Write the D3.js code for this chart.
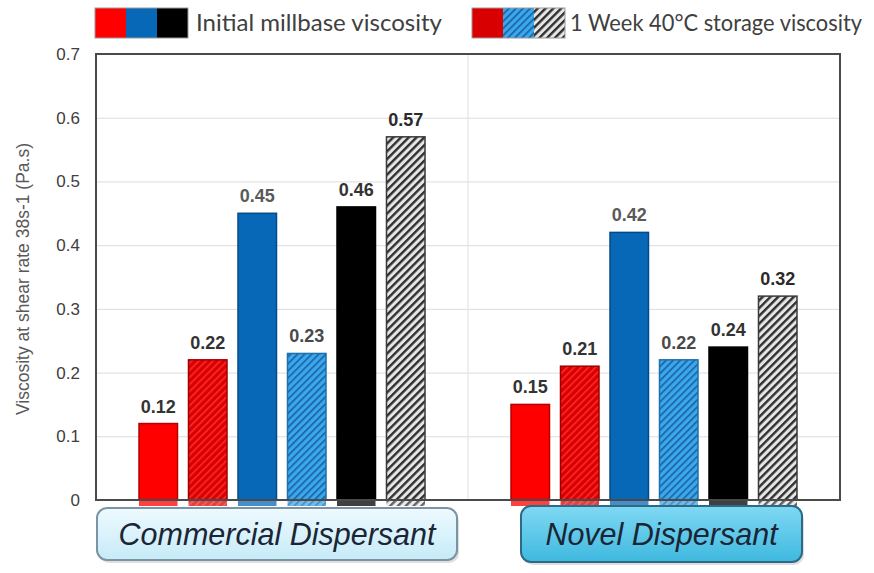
<!DOCTYPE html>
<html>
<head>
<meta charset="utf-8">
<script src="https://cdn.jsdelivr.net/npm/d3@7"></script>
<style>
  html, body { margin: 0; padding: 0; background: #fff; }
  svg { display: block; }
</style>
</head>
<body>
<svg id="chart" width="874" height="573"></svg>
<script>
// Dispersant groups and the six bars drawn in each group
const groups = ["Commercial Dispersant", "Novel Dispersant"];
const series = ["redInitial", "redStored", "blueInitial", "blueStored", "blackInitial", "blackStored"];
const commercialValues = [0.12, 0.22, 0.45, 0.23, 0.46, 0.57];
const novelValues = [0.15, 0.21, 0.42, 0.22, 0.24, 0.32];
const yTicks = [0, 0.1, 0.2, 0.3, 0.4, 0.5, 0.6, 0.7];
const legendLabels = ["Initial millbase viscosity", "1 Week 40°C storage viscosity"];
const yTitle = "Viscosity at shear rate 38s-1 (Pa.s)";

const data = [];
groups.forEach((g, gi) => {
  const vals = gi === 0 ? commercialValues : novelValues;
  series.forEach((s, si) => data.push({ group: g, series: s, value: vals[si] }));
});

// Fill / edge styling per series
const styles = {
  redInitial:   { fill: "#ff0000", edge: "#b80000", label: "#333333" },
  redStored:    { fill: "url(#hatchRed)", edge: "#a00000", label: "#333333" },
  blueInitial:  { fill: "#0868b8", edge: "#064a85", label: "#5a5a5a" },
  blueStored:   { fill: "url(#hatchBlue)", edge: "#1f6fa8", label: "#4a4a4a" },
  blackInitial: { fill: "#000000", edge: "#000000", label: "#333333" },
  blackStored:  { fill: "url(#hatchGray)", edge: "#3a3a3a", label: "#2a2a2a" }
};

const svg = d3.select("#chart");
const plot = { left: 96, top: 54, right: 840, bottom: 500 };

const defs = svg.append("defs");
function hatch(id, bg, line, width, size) {
  const p = defs.append("pattern")
    .attr("id", id).attr("patternUnits", "userSpaceOnUse")
    .attr("width", size).attr("height", size)
    .attr("patternTransform", "rotate(45)");
  p.append("rect").attr("width", size).attr("height", size).attr("fill", bg);
  p.append("rect").attr("x", 0).attr("y", 0).attr("width", width).attr("height", size).attr("fill", line);
}
hatch("hatchRed", "#d80000", "#ff2a2a", 1.6, 5);
hatch("hatchBlue", "#3aa8ee", "#1b5f9c", 1.6, 5);
hatch("hatchGray", "#e6e6e6", "#2e2e2e", 2.4, 5.5);

const gradC = defs.append("linearGradient").attr("id", "boxC").attr("x1", 0).attr("y1", 0).attr("x2", 0).attr("y2", 1);
gradC.append("stop").attr("offset", "0%").attr("stop-color", "#eefaff");
gradC.append("stop").attr("offset", "100%").attr("stop-color", "#c6ebf8");
const gradN = defs.append("linearGradient").attr("id", "boxN").attr("x1", 0).attr("y1", 0).attr("x2", 0).attr("y2", 1);
gradN.append("stop").attr("offset", "0%").attr("stop-color", "#7fd8f3");
gradN.append("stop").attr("offset", "100%").attr("stop-color", "#3fb9df");

// Scales
const x0 = d3.scaleBand().domain(groups).range([plot.left, plot.right]).padding(0);
const x1 = d3.scaleBand().domain(series).range([43, 329]).paddingInner(0.222).paddingOuter(0);
const y = d3.scaleLinear().domain([0, 0.7]).range([plot.bottom, plot.top]);

// Gridlines
svg.append("g")
  .attr("transform", `translate(${plot.left},0)`)
  .call(d3.axisLeft(y).tickValues(yTicks).tickSize(-(plot.right - plot.left)).tickFormat(""))
  .call(g => g.select(".domain").remove())
  .call(g => g.selectAll("line").attr("stroke", "#dcdcdc").attr("stroke-width", 1));

// Group separator
svg.append("line")
  .attr("x1", x0(groups[1])).attr("x2", x0(groups[1]))
  .attr("y1", plot.top).attr("y2", plot.bottom)
  .attr("stroke", "#e4e4e4").attr("stroke-width", 1.2);

// Y tick labels
svg.append("g")
  .attr("transform", `translate(${plot.left},0)`)
  .call(d3.axisLeft(y).tickValues(yTicks).tickSize(0).tickPadding(16).tickFormat(d => d === 0 ? "0" : d3.format(".1f")(d)))
  .call(g => g.select(".domain").remove())
  .call(g => g.selectAll("text")
    .attr("font-family", "'Liberation Sans', Arial, sans-serif")
    .attr("font-size", 17).attr("fill", "#404040"));

// Y axis title
svg.append("text")
  .attr("transform", `translate(29,${(plot.top + plot.bottom) / 2 + 2}) rotate(-90)`)
  .attr("text-anchor", "middle")
  .attr("font-family", "'Liberation Sans', Arial, sans-serif")
  .attr("font-size", 17.5).attr("fill", "#595959")
  .text(yTitle);

// Faint reflection of each bar just below the baseline
svg.append("g").selectAll("rect").data(data).join("rect")
  .attr("x", d => x0(d.group) + x1(d.series))
  .attr("y", plot.bottom)
  .attr("width", x1.bandwidth())
  .attr("height", 6)
  .attr("fill", d => styles[d.series].fill)
  .attr("opacity", 0.75);

// Bars
svg.append("g").selectAll("rect").data(data).join("rect")
  .attr("x", d => x0(d.group) + x1(d.series))
  .attr("y", d => y(d.value))
  .attr("width", x1.bandwidth())
  .attr("height", d => y(0) - y(d.value))
  .attr("fill", d => styles[d.series].fill)
  .attr("stroke", d => styles[d.series].edge)
  .attr("stroke-width", 1.5);

// Value labels
svg.append("g").selectAll("text").data(data).join("text")
  .attr("x", d => x0(d.group) + x1(d.series) + x1.bandwidth() / 2)
  .attr("y", d => y(d.value) - 11)
  .attr("text-anchor", "middle")
  .attr("font-family", "'Liberation Sans', Arial, sans-serif")
  .attr("font-weight", "bold")
  .attr("font-size", 18)
  .attr("fill", d => styles[d.series].label)
  .text(d => d3.format(".2f")(d.value));

// Plot frame
svg.append("rect")
  .attr("x", plot.left).attr("y", plot.top)
  .attr("width", plot.right - plot.left).attr("height", plot.bottom - plot.top)
  .attr("fill", "none").attr("stroke", "#4a4a4a").attr("stroke-width", 2);

// Group label boxes
const boxes = [
  { group: groups[0], x: 97, w: 360, y: 508, h: 52, fill: "url(#boxC)", stroke: "#7b93a3" },
  { group: groups[1], x: 521, w: 281, y: 506, h: 56, fill: "url(#boxN)", stroke: "#2d6a86" }
];
const bx = svg.append("g").selectAll("g").data(boxes).join("g");
bx.append("rect")
  .attr("x", d => d.x + 2).attr("y", d => d.y + 3)
  .attr("width", d => d.w).attr("height", d => d.h)
  .attr("rx", 10).attr("fill", "#c8c8c8").attr("opacity", 0.6);
bx.append("rect")
  .attr("x", d => d.x).attr("y", d => d.y)
  .attr("width", d => d.w).attr("height", d => d.h)
  .attr("rx", 10).attr("fill", d => d.fill)
  .attr("stroke", d => d.stroke).attr("stroke-width", 2);
bx.append("text")
  .attr("x", d => d.x + d.w / 2)
  .attr("y", d => d.y + d.h / 2 + 11)
  .attr("text-anchor", "middle")
  .attr("font-family", "'Liberation Sans', Arial, sans-serif")
  .attr("font-style", "italic")
  .attr("font-size", 30.5)
  .attr("fill", "#1b2535")
  .text(d => d.group);

// Legend
const legend = [
  { x: 95, fills: ["#ff0000", "#0868b8", "#000000"], label: legendLabels[0], tx: 196, tw: 246 },
  { x: 472, fills: ["#d80000", "url(#hatchBlue)", "url(#hatchGray)"], label: legendLabels[1], tx: 570, tw: 292 }
];
const lg = svg.append("g").selectAll("g").data(legend).join("g");
lg.each(function(d) {
  const g = d3.select(this);
  const w = 31;
  d.fills.forEach((f, i) => {
    g.append("rect").attr("x", d.x + i * w).attr("y", 8).attr("width", w).attr("height", 30).attr("fill", f);
  });
  g.append("rect").attr("x", d.x).attr("y", 8).attr("width", w * 3).attr("height", 30)
    .attr("fill", "none").attr("stroke", "#9a9a9a").attr("stroke-width", 1);
  g.append("text")
    .attr("x", d.tx).attr("y", 31)
    .attr("font-family", "Lato, 'Open Sans', sans-serif")
    .attr("font-size", 22.5).attr("fill", "#404040")
    .attr("textLength", d.tw).attr("lengthAdjust", "spacingAndGlyphs")
    .text(d.label);
});
</script>
</body>
</html>
